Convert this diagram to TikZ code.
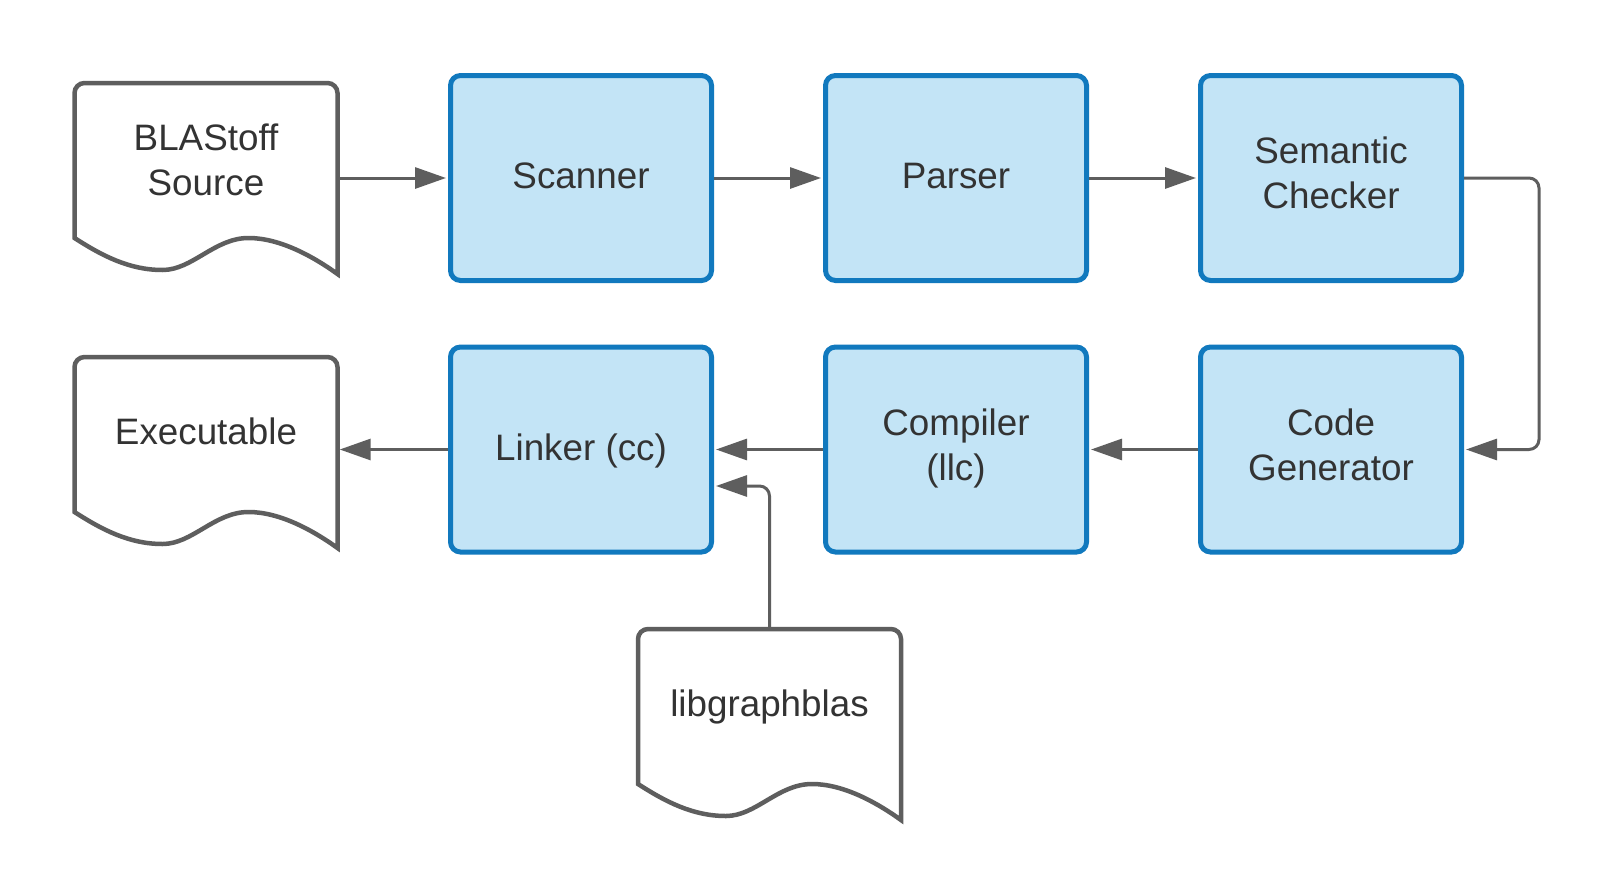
\documentclass[tikz,border=0pt]{standalone}
\usepackage{fontspec}
\setmainfont{Liberation Sans}
\usetikzlibrary{arrows.meta}
\definecolor{boxfill}{HTML}{C3E4F6}
\definecolor{boxblue}{HTML}{1179BE}
\definecolor{lgrey}{HTML}{5E5E5E}
\definecolor{txt}{HTML}{333333}
\newcommand\ls{\rule[-12pt]{0pt}{45pt}}
\newcommand\lsd{\rule[-17pt]{0pt}{50pt}}
\newcommand\docpic[5]{%
  \begin{scope}[shift={(#2,#3)}]
    \draw[docline] (0,155) -- (0,10) .. controls (0,4.5) and (4.5,0) .. (10,0) -- (253,0)
      .. controls (258.5,0) and (263,4.5) .. (263,10) -- (263,191)
      .. controls (238,173) and (205,155) .. (174,155)
      .. controls (140,155) and (118,187) .. (88,187)
      .. controls (55,187) and (28,173) .. (0,155) -- cycle;
    \coordinate (#1-top) at (131.5,0);
    \node[doctext] (#1) at (131.5,#4) {#5};
  \end{scope}}
\begin{document}
\begin{tikzpicture}[x=1pt,y=-1pt,
  proc/.style={draw=boxblue, fill=boxfill, line width=5pt, rounded corners=10pt,
    minimum width=261pt, minimum height=205pt, inner sep=0pt, align=center,
    font=\fontsize{36.8pt}{45pt}\selectfont, text=txt},
  doctext/.style={inner sep=0pt, minimum width=263pt, align=center,
    font=\fontsize{36.8pt}{45pt}\selectfont, text=txt},
  docline/.style={draw=lgrey, line width=4.5pt, fill=white},
  conn/.style={draw=lgrey, line width=3pt, -{Triangle[length=31pt,width=21pt]}, shorten >=2pt}]
\useasboundingbox[fill=white] (0,0) rectangle (1616,891);

\node[proc] (scanner)  at (581,178)   {\ls Scanner};
\node[proc] (parser)   at (956,178)   {\ls Parser};
\node[proc] (sem)      at (1331,178)  {\ls Semantic\\\lsd Checker};
\node[proc] (linker)   at (581,449.5) {\ls Linker (cc)};
\node[proc] (compiler) at (956,449.5) {\ls Compiler\\\lsd (llc)};
\node[proc] (code)     at (1331,449.5){\ls Code\\\lsd Generator};

\docpic{src}{74.5}{83}{81.5}{\ls BLAStoff\\\lsd Source}
\docpic{exe}{74.5}{357}{76.5}{\ls Executable}
\docpic{lib}{638}{629}{76.5}{\ls libgraphblas}

\draw[conn] (src.east |- scanner.west) -- (scanner.west);
\draw[conn] (scanner) -- (parser);
\draw[conn] (parser) -- (sem);
\draw[conn, rounded corners=10pt] (sem.east) -- ++(75,0) |- (code.east);
\draw[conn] (code) -- (compiler);
\draw[conn] (compiler) -- (linker);
\draw[conn] (linker.west) -- (exe.east |- linker.west);
\draw[conn, rounded corners=10pt] (lib-top) |- ([yshift=-36.5pt]linker.east);
\end{tikzpicture}
\end{document}
